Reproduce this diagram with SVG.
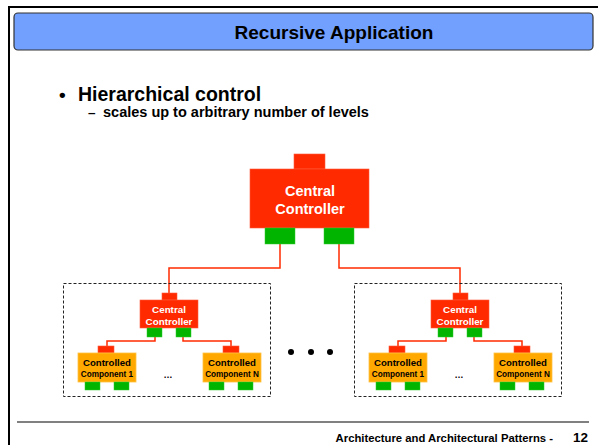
<svg xmlns="http://www.w3.org/2000/svg" width="598" height="445" viewBox="0 0 598 445">
<style>
text{font-family:"Liberation Sans",Arial,sans-serif;font-weight:bold}
.red{fill:#FF2A00;stroke:#FF5A3A;stroke-width:0.6}
.grn{fill:#00B400;stroke:#33CC33;stroke-width:0.5}
.org{fill:#FFA800;stroke:#FFC040;stroke-width:0.8}
.wire{fill:none;stroke:#FF2A00;stroke-width:1.5}
.dash{fill:none;stroke:#222;stroke-width:1;stroke-dasharray:3,2}
.wt{fill:#fff;text-anchor:middle}
.bt{fill:#000;text-anchor:middle}
</style>
<defs>
<g id="sub">
<rect class="dash" x="63.5" y="283.5" width="207" height="113"/>
<g class="wire">
<polyline points="155,337 155,341 107,341 107,346"/>
<polyline points="183,337 183,341 231,341 231,346"/>
</g>
<g>
<rect class="red" x="162" y="293" width="15" height="7"/>
<rect class="red" x="140" y="300" width="58" height="28"/>
<rect class="grn" x="147" y="328" width="15" height="9"/>
<rect class="grn" x="176" y="328" width="15" height="9"/>
<text class="wt" x="169" y="313" font-size="9.8">Central</text>
<text class="wt" x="169" y="324.5" font-size="9.8">Controller</text>
</g>
<g>
<rect class="red" x="98" y="346" width="16" height="7"/>
<rect class="org" x="78" y="353" width="58" height="29"/>
<rect class="grn" x="85" y="382" width="15" height="8"/>
<rect class="grn" x="114" y="382" width="15" height="8"/>
<text class="bt" x="107" y="366" font-size="9.6">Controlled</text>
<text class="bt" x="107" y="377" font-size="8.2">Component 1</text>
</g>
<g>
<rect class="red" x="223" y="346" width="16" height="7"/>
<rect class="org" x="203" y="353" width="58" height="29"/>
<rect class="grn" x="209" y="382" width="15" height="8"/>
<rect class="grn" x="238" y="382" width="15" height="8"/>
<text class="bt" x="232" y="366" font-size="9.6">Controlled</text>
<text class="bt" x="232" y="377" font-size="8.2">Component N</text>
</g>
<text x="168" y="378" font-size="9" font-weight="normal" text-anchor="middle" fill="#000">…</text>
</g>
</defs>
<rect x="0" y="0" width="598" height="445" fill="#fff"/>
<path d="M9,445 V7 H598" fill="none" stroke="#000" stroke-width="2"/>
<g id="title">
<rect x="14" y="13" width="579" height="37" rx="4" fill="#72A0FF" stroke="#333" stroke-width="1.2"/>
<text x="334" y="38.5" font-size="19" text-anchor="middle" fill="#000">Recursive Application</text>
</g>
<g id="bullets">
<text x="59" y="101" font-size="19" fill="#000">•</text>
<text x="78" y="101" font-size="19.5" fill="#000">Hierarchical control</text>
<text x="88" y="117" font-size="13.5" fill="#000">–</text>
<text x="103" y="117" font-size="14.5" fill="#000">scales up to arbitrary number of levels</text>
</g>
<g id="connectors" class="wire">
<polyline points="280,244 280,268 169,268 169,293"/>
<polyline points="339,244 339,268 460,268 460,293"/>
</g>
<g id="main-controller">
<rect class="red" x="294" y="154" width="31" height="15"/>
<rect class="red" x="250" y="169" width="119" height="59"/>
<rect class="grn" x="265" y="228" width="30" height="16"/>
<rect class="grn" x="324" y="228" width="30" height="16"/>
<text class="wt" x="310" y="196" font-size="14.5">Central</text>
<text class="wt" x="310" y="214" font-size="14.5">Controller</text>
</g>
<g id="group-left"><use href="#sub"/></g>
<g id="group-right"><use href="#sub" transform="translate(291,0)"/></g>
<g id="ellipsis">
<circle cx="291" cy="352" r="3" fill="#000"/>
<circle cx="311" cy="352" r="3" fill="#000"/>
<circle cx="330" cy="352" r="3" fill="#000"/>
</g>
<g id="footer">
<line x1="17" y1="422" x2="589" y2="422" stroke="#808080" stroke-width="2"/>
<text x="553" y="442" font-size="11.3" text-anchor="end" fill="#000">Architecture and Architectural Patterns -</text>
<text x="588" y="442" font-size="13.5" text-anchor="end" fill="#000">12</text>
</g>
</svg>
